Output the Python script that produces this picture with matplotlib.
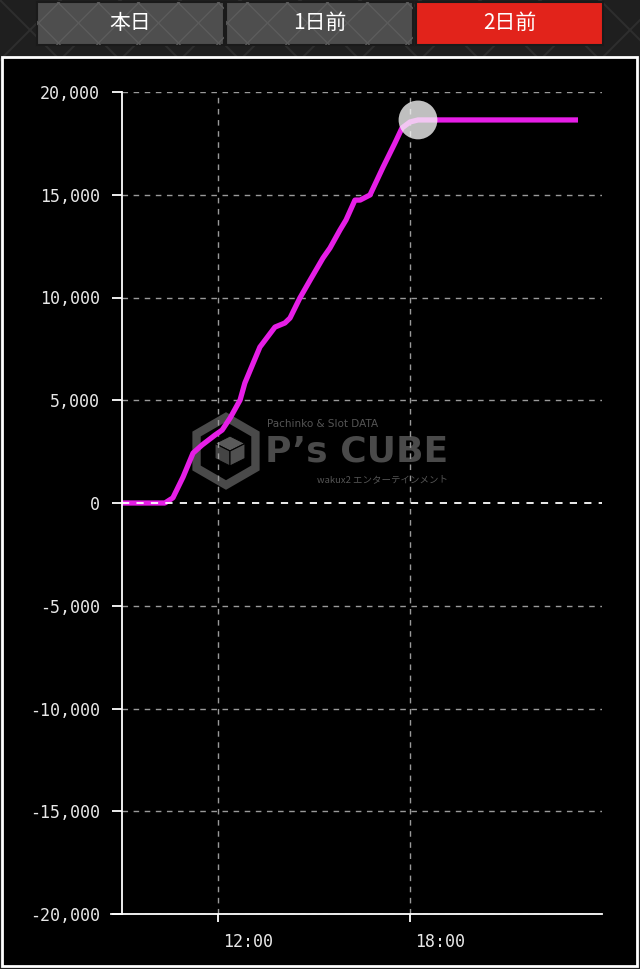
import matplotlib
matplotlib.use("Agg")
import matplotlib.pyplot as plt
import matplotlib.transforms as mtrans
from matplotlib.patches import Rectangle, Polygon
from matplotlib.ticker import FuncFormatter
import numpy as np

# data (hours of the day, balance)
hours = [9.0, 10.34, 10.59, 10.91, 11.22, 11.5, 11.91, 12.13, 12.38, 12.69,
         12.84, 13.31, 13.78, 14.09, 14.25, 14.56, 14.88, 15.28, 15.5, 15.81,
         16.0, 16.28, 16.44, 16.75, 17.16, 17.53, 17.75, 18.0, 18.25, 23.25]
balance = [0, 0, 250, 1270, 2430, 2820, 3310, 3550, 4140, 5010,
           5840, 7590, 8560, 8760, 9000, 9980, 10850, 11920, 12410, 13280,
           13770, 14740, 14740, 14990, 16350, 17520, 18250, 18540, 18640, 18640]
last_point = (18.25, 18640)

y_ticks = [-20000, -15000, -10000, -5000, 0, 5000, 10000, 15000, 20000]
x_ticks = [12, 18]
x_labels = ["12:00", "18:00"]
tabs = ["本日", "1日前", "2日前"]
active_tab = 2

W, H = 640, 969
fig = plt.figure(figsize=(W / 100, H / 100), dpi=100)
fig.patch.set_facecolor("#1f1f1f")

# background layer in pixel coordinates
bg = fig.add_axes([0, 0, 1, 1], zorder=0)
bg.set_xlim(0, W)
bg.set_ylim(H, 0)
bg.axis("off")

# diamond texture at the top
for x0 in range(-120, W + 120, 60):
    bg.plot([x0, x0 + 60], [0, 60], color="#2e2e2e", lw=1.5, zorder=0.5)
    bg.plot([x0 + 60, x0], [0, 60], color="#2e2e2e", lw=1.5, zorder=0.5)

tab_x = [37, 226, 416]
for i, (label, tx) in enumerate(zip(tabs, tab_x)):
    fc = "#e2231b" if i == active_tab else "#4e4e4e"
    box = Rectangle((tx, 2), 187, 43, facecolor=fc, edgecolor="#1a1a1a", lw=1.5, zorder=1)
    bg.add_patch(box)
    if i != active_tab:
        for x0 in range(tx - 60, tx + 200, 40):
            for sign in (1, -1):
                ln, = bg.plot([x0, x0 + 43], [23 - sign * 21.5, 23 + sign * 21.5],
                              color="#5c5c5c", lw=1, zorder=1.5)
                ln.set_clip_path(box)
    bg.text(tx + 93.5, 23, label, color="white", fontsize=15, ha="center", va="center",
            family=["Noto Sans CJK JP", "DejaVu Sans"], zorder=2)

# chart panel
bg.add_patch(Rectangle((2, 57), 635, 909, facecolor="black", edgecolor="white", lw=2, zorder=3))

# chart axes
ax = fig.add_axes([122 / W, 1 - 914 / H, 480 / W, (914 - 92) / H], zorder=1)
ax.set_facecolor("none")
ax.set_xlim(9, 24)
ax.set_ylim(-20000, 20000)

# watermark (pixel coords via bg transform)
wm = "#4a4a4a"
cx, cy, r = 226, 451, 34
hexagon = [(cx + r * np.cos(a), cy + r * np.sin(a)) for a in np.deg2rad(np.arange(-90, 270, 60))]
ax.add_patch(Polygon(hexagon, closed=True, fill=False, edgecolor=wm, lw=6,
                     transform=bg.transData, clip_on=False, zorder=0.5))
s = 15
top = [(cx + 4, cy - s), (cx + 4 + s, cy - s / 2), (cx + 4, cy), (cx + 4 - s, cy - s / 2)]
left = [(cx + 4 - s, cy - s / 2), (cx + 4, cy), (cx + 4, cy + s), (cx + 4 - s, cy + s / 2)]
right = [(cx + 4 + s, cy - s / 2), (cx + 4, cy), (cx + 4, cy + s), (cx + 4 + s, cy + s / 2)]
for poly, c in [(top, "#5a5a5a"), (left, "#444444"), (right, "#505050")]:
    ax.add_patch(Polygon(poly, closed=True, facecolor=c, edgecolor="black", lw=0.8,
                         transform=bg.transData, clip_on=False, zorder=0.5))
ax.text(267, 424, "Pachinko & Slot DATA", color="#555555", fontsize=7.5, va="center",
        transform=bg.transData, zorder=0.5, family="DejaVu Sans")
ax.text(265, 451, "P’s CUBE", color=wm, fontsize=26, fontweight="bold", va="center",
        transform=bg.transData, zorder=0.5, family="DejaVu Sans")
ax.text(317, 480, "wakux2 エンターテインメント", color="#555555", fontsize=6.8, va="center",
        transform=bg.transData, zorder=0.5, family=["Noto Sans CJK JP", "DejaVu Sans"])

# grid
for yv in y_ticks:
    if yv == 0:
        continue
    ax.axhline(yv, color="#9a9a9a", lw=1, ls=(0, (4, 4)), zorder=1)
for xv in x_ticks:
    ax.axvline(xv, color="#9a9a9a", lw=1, ls=(0, (4, 4)), zorder=1)

ax.plot(hours, balance, color="#e61ee6", lw=3.8, solid_capstyle="butt",
        solid_joinstyle="round", zorder=2)
ax.axhline(0, color="white", lw=1.3, ls=(0, (4, 4)), zorder=3)
ax.scatter([last_point[0]], [last_point[1]], s=780, color="#f6f6f6", alpha=0.78,
           edgecolors="none", zorder=4, clip_on=False)

for side in ["top", "right"]:
    ax.spines[side].set_visible(False)
for side in ["left", "bottom"]:
    ax.spines[side].set_color("white")
    ax.spines[side].set_linewidth(1.3)

ax.set_yticks(y_ticks)
ax.yaxis.set_major_formatter(FuncFormatter(lambda v, p: f"{int(v):,}"))
ax.set_xticks(x_ticks)
ax.set_xticklabels(x_labels, ha="left")
ax.tick_params(axis="y", colors="white", labelcolor="#e8e8e8", length=7, width=1.3,
               pad=9, labelsize=12)
ax.tick_params(axis="x", colors="white", labelcolor="#e8e8e8", length=6, width=1.3,
               pad=8, labelsize=12)
for lab in ax.get_yticklabels() + ax.get_xticklabels():
    lab.set_family("DejaVu Sans Mono")
offset = mtrans.ScaledTranslation(4 / 72, 0, fig.dpi_scale_trans)
for lab in ax.get_xticklabels():
    lab.set_transform(lab.get_transform() + offset)

# short stub of bottom axis left of the spine
ax.plot([8.67, 9], [-20000, -20000], color="white", lw=1.3, clip_on=False, zorder=3)

fig.savefig("out.png", dpi=100, facecolor=fig.get_facecolor())
